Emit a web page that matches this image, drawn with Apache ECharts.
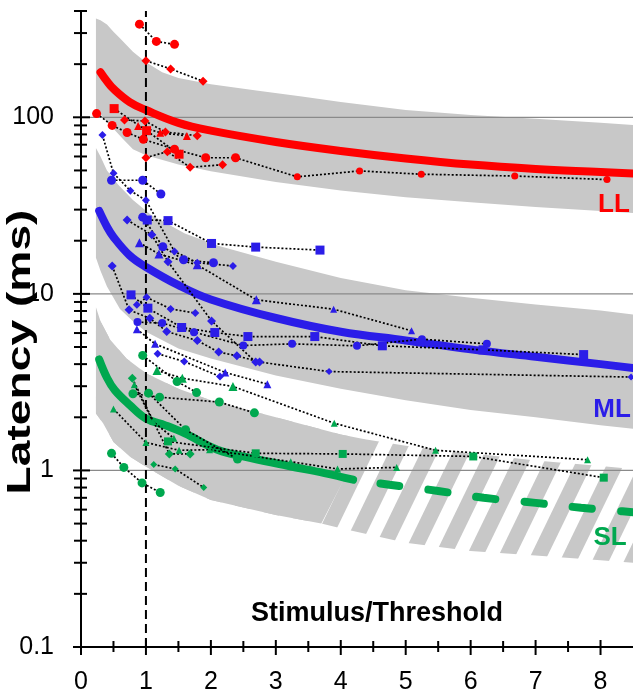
<!DOCTYPE html>
<html>
<head>
<meta charset="utf-8">
<script src="https://cdn.jsdelivr.net/npm/echarts@6.0.0/dist/echarts.min.js"></script>
<style>
  html, body { margin: 0; padding: 0; background: #fff; }
  #chart { width: 633px; height: 695px; }
</style>
</head>
<body>
<div id="chart"></div>
<script>
// axis ticks
const xMajorTicks = [0, 1, 2, 3, 4, 5, 6, 7, 8];
const xMinorTicks = [0.5, 1.5, 2.5, 3.5, 4.5, 5.5, 6.5, 7.5];
const yMajorTicks = [0.1, 1, 10, 100];
const yMinorTicks = [0.2, 0.3, 0.4, 0.5, 0.6, 0.7, 0.8, 0.9,
  2, 3, 4, 5, 6, 7, 8, 9, 20, 30, 40, 50, 60, 70, 80, 90, 200, 300, 400];
const gridValues = [1, 10, 100];

// fitted curves
const llFit = [[0.3,180],[0.4,160],[0.5,145],[0.75,122],[1,110],[1.5,93],[2,84],[3,72.5],[4,64.5],[5,58.5],[6,54],[7,51],[8,49],[8.5,48]];
const mlFit = [[0.28,29.5],[0.4,24],[0.5,21],[0.75,16.5],[1,14.2],[1.5,11.2],[2,9.3],[3,7.3],[4,6.1],[5,5.45],[6,4.85],[7,4.4],[8,4.0],[8.5,3.8]];
const slFit = [[0.28,4.25],[0.4,3.35],[0.52,2.85],[0.75,2.35],[1,1.97],[1.3,1.8],[1.6,1.62],[2.1,1.31],[2.6,1.18],[3.2,1.06],[3.75,0.966],[4.19,0.886]];
const slExtrap = [[4.19,0.886],[4.75,0.83],[5.5,0.765],[6.2,0.70],[7.0,0.655],[7.7,0.615],[8.26,0.59],[8.5,0.58]];

// grey ranges
const llUpper = [[0.23,363],[0.3,355],[0.4,335],[0.5,305],[0.6,280],[0.8,235],[1.0,205],[1.25,180],[1.5,167],[2,154],[2.7,142],[3.4,131],[4,122],[5,110],[6,103],[7,98],[8,93],[8.5,90.5]];
const llLower = [[0.23,112],[0.3,104],[0.4,94],[0.5,86],[0.65,75],[0.8,66],[1,61],[1.5,54],[2,49.5],[3,43],[4,38.5],[5,35.3],[6,33],[7,31],[8,29.5],[8.5,28.7]];
const mlUpper = [[0.23,67],[0.3,60],[0.4,50],[0.57,41.6],[0.8,34],[1.08,28],[1.6,22],[2.1,18.8],[3,15.2],[4,12.3],[5,10.5],[6,9.5],[7,8.7],[8,8.05],[8.5,7.64]];
const mlLower = [[0.23,16],[0.3,13.5],[0.4,11],[0.6,8.2],[0.8,7],[1,6.1],[1.5,4.9],[2,4.3],[3,3.45],[4,2.9],[5,2.5],[6,2.2],[7,2.0],[8,1.8],[8.5,1.72]];
const slUpper = [[0.23,8.4],[0.3,7.0],[0.45,5.5],[0.7,4.3],[1,3.55],[1.5,2.9],[2,2.5],[3,2.0],[4,1.6],[4.37,1.5],[5,1.38],[6,1.25],[7,1.14],[8,1.06],[8.5,1.02]];
const slLower = [[0.23,2.1],[0.34,1.85],[0.5,1.45],[0.75,1.2],[1.0,1.05],[1.5,0.82],[2,0.68],[3,0.56],[3.7,0.5],[4,0.47],[5,0.39],[6,0.35],[7,0.33],[8,0.31],[8.5,0.30]];
const slSolidUpper = slUpper.filter(p => p[0] <= 4.37);
const slSolidLower = slLower.filter(p => p[0] <= 3.7);

// individual subjects, LL
const llCircA = [[0.90,337],[1.16,269],[1.44,259]];
const llDiamA = [[1.0,209],[1.38,188],[1.88,160]];
const llCircB = [[0.24,105],[0.48,90],[0.71,82],[0.96,75],[1.44,66],[1.92,59],[2.38,59],[3.33,46],[4.29,49.7],[5.24,47.6],[6.68,46.5],[8.10,44.4]];
const llSq = [[0.51,112],[1.01,84],[1.51,61.8]];
const llTri = [[0.88,89.3],[1.22,81.8],[1.63,78.4]];
const llDiamB = [[0.67,96.6],[0.985,95.3],[1.30,82.5],[1.79,78.7]];
const llDiamC = [[1.0,59.1],[1.33,63.9],[1.68,52.1],[2.18,53.9]];

// ML
const mlDiamA = [[0.33,79.4],[0.50,48.2],[0.76,38.4],[1.0,33.9],[1.44,17.4],[1.79,15.0],[2.34,14.4]];
const mlCircA = [[0.47,44],[0.95,44],[1.23,36.8]];
const mlCircB = [[0.95,27.2],[1.26,18.5],[1.58,15.6],[2.04,15.0]];
const mlSqA = [[1.02,26.2],[1.34,26.0],[2.01,19.3],[2.69,18.4],[3.68,17.7]];
const mlDiamB = [[0.71,26.2],[1.09,21.6],[1.34,15.2],[2.01,7.03],[2.69,4.11]];
const mlTriA = [[0.90,19.5],[1.20,16.8],[1.79,14.6],[2.70,9.25],[3.89,8.19],[5.09,6.18]];
const mlDiamC = [[0.48,14.4],[0.74,8.12],[1.06,7.28],[1.32,6.12],[1.79,5.44],[2.12,4.68],[2.40,4.46],[2.75,4.11],[3.82,3.63],[8.47,3.38]];
const mlSqB = [[0.77,9.87],[1.03,8.30],[1.55,6.45],[2.06,6.04],[2.57,5.73],[3.60,5.73],[4.64,5.08],[6.19,4.82],[7.74,4.53]];
const mlCircC = [[0.87,6.92],[1.25,6.83],[1.74,6.07],[2.50,5.10],[3.25,5.21],[4.25,5.08],[5.25,5.54],[6.25,5.21]];
const mlDiamD = [[0.86,8.67],[1.01,9.56],[1.38,8.22],[1.76,7.78]];
const mlTriB = [[0.86,6.31],[1.14,5.21],[2.22,3.59],[2.87,3.08]];
const mlDiamE = [[1.18,4.58],[1.59,4.14],[2.14,3.40]];

// SL
const slCircA = [[0.95,4.48],[1.48,3.19],[1.78,2.76]];
const slTriA = [[1.17,3.68],[1.56,3.33],[2.34,2.99],[3.90,1.85],[5.46,1.30],[7.80,1.15]];
const slCircB = [[0.80,2.72],[1.21,2.60],[2.13,2.44],[2.67,2.12]];
const slDiamA = [[0.79,3.33],[1.36,1.24],[1.68,1.24]];
const slTriB = [[0.50,2.23],[1.0,1.44],[1.51,1.30],[1.98,1.31],[3.23,1.12],[3.95,1.02],[4.86,1.04]];
const slSq = [[1.34,1.46],[2.69,1.25],[4.03,1.24],[6.04,1.20],[8.05,0.91]];
const slCircC = [[0.47,1.25],[0.66,1.04],[0.94,0.85],[1.22,0.75]];
const slDiamB = [[1.12,1.08],[1.45,1.02],[1.89,0.80]];
const slCircD = [[1.04,2.74],[1.61,1.70],[2.41,1.16]];
const slTriC = [[0.82,3.06],[1.11,1.89],[1.43,1.52]];

const threshold = [[1, 0.1], [1, 400]];

const RED = '#ff0000', BLUE = '#2b1de8', GREEN = '#00a84f', GREY = '#c8c8c8';
const FONT = '"Liberation Sans", Arial, Helvetica, sans-serif';

// diagonal stripes for the extrapolated SL range
function stripePattern() {
  const W = 32, H = 66, sw = 17;
  const c = document.createElement('canvas');
  c.width = W; c.height = H;
  const ctx = c.getContext('2d');
  ctx.fillStyle = GREY;
  for (let k = -1; k <= 1; k++) {
    const o = k * W;
    ctx.beginPath();
    ctx.moveTo(o, H);
    ctx.lineTo(o + sw, H);
    ctx.lineTo(o + sw + W, 0);
    ctx.lineTo(o + W, 0);
    ctx.closePath();
    ctx.fill();
  }
  return c;
}

function band(upper, lower, fill) {
  return {
    type: 'custom', z: 1, silent: true, data: [[0, 1]],
    renderItem: function (params, api) {
      const pts = upper.map(p => api.coord(p))
        .concat(lower.slice().reverse().map(p => api.coord(p)));
      return { type: 'polygon', shape: { points: pts }, style: { fill: fill } };
    }
  };
}

function ticks(values, vertical, before, after) {
  return {
    type: 'custom', z: 10, silent: true,
    data: values.map(v => vertical ? [v, 0.1] : [0, v]),
    renderItem: function (params, api) {
      const p = api.coord([api.value(0), api.value(1)]);
      const shape = vertical
        ? { x1: p[0], y1: p[1] - before, x2: p[0], y2: p[1] + after }
        : { x1: p[0] - before, y1: p[1], x2: p[0] + after, y2: p[1] };
      return { type: 'line', shape: shape, style: { stroke: '#000', lineWidth: 2 } };
    }
  };
}

function fit(data, color, dash) {
  return {
    type: 'line', z: 3, data: data, smooth: 0.4, symbol: 'none', silent: true,
    lineStyle: { color: color, width: 8, cap: 'round', type: dash || 'solid', dashOffset: dash ? 21 : 0 }
  };
}

function subject(data, color, symbol, size) {
  return {
    type: 'line', z: 5, data: data, symbol: symbol, showSymbol: true, silent: true,
    symbolSize: size || 9,
    itemStyle: { color: color },
    lineStyle: { color: '#000', width: 1.7, type: [2, 2] }
  };
}

const tailSize = v => v[0] > 3 ? 7 : 9;

function label(text, x, y, color, size, extra) {
  return Object.assign({
    type: 'text', x: x, y: y, z: 100,
    style: {
      text: text, font: 'bold ' + size + 'px ' + FONT, fill: color,
      align: 'center', verticalAlign: 'middle', textAlign: 'center', textVerticalAlign: 'middle'
    }
  }, extra || {});
}

const chart = echarts.init(document.getElementById('chart'));
chart.setOption({
  animation: false,
  grid: { left: 81, right: 0, top: 11, bottom: 48 },
  xAxis: {
    type: 'value', min: 0, max: 8.5, interval: 1,
    axisLine: { lineStyle: { color: '#000', width: 2 } },
    axisTick: { show: false },
    splitLine: { show: false },
    axisLabel: { color: '#000', fontSize: 25, fontFamily: FONT, margin: 23, showMaxLabel: false }
  },
  yAxis: {
    type: 'log', logBase: 10, min: 0.1, max: 400,
    axisLine: { lineStyle: { color: '#000', width: 2 } },
    axisTick: { show: false },
    splitLine: { show: false },
    axisLabel: { color: '#000', fontSize: 25, fontFamily: FONT, margin: 27, showMaxLabel: false }
  },
  graphic: [
    label('Stimulus/Threshold', 377, 614, '#000', 27),
    label('Latency (ms)', 21, 352, '#000', 33, { rotation: Math.PI / 2, scaleX: 1.4 }),
    label('LL', 614, 205, RED, 26),
    label('ML', 612, 410, BLUE, 26),
    label('SL', 610, 538, GREEN, 26)
  ],
  series: [
    band(llUpper, llLower, GREY),
    band(mlUpper, mlLower, GREY),
    band(slUpper, slLower, { image: stripePattern(), repeat: 'repeat' }),
    band(slSolidUpper, slSolidLower, GREY),
    {
      type: 'custom', z: 2, silent: true,
      data: gridValues.map(v => [0, v]),
      renderItem: function (params, api) {
        const a = api.coord([0, api.value(1)]);
        const b = api.coord([8.5, api.value(1)]);
        return { type: 'line', shape: { x1: a[0], y1: a[1], x2: b[0], y2: b[1] }, style: { stroke: '#8a8a8a', lineWidth: 1.2 } };
      }
    },
    fit(llFit, RED),
    fit(mlFit, BLUE),
    fit(slFit, GREEN),
    fit(slExtrap, GREEN, [19, 29.5]),
    {
      type: 'line', z: 4, data: threshold, symbol: 'none', silent: true,
      lineStyle: { color: '#000', width: 2, type: [9, 5] }
    },
    subject(llCircA, RED, 'circle'),
    subject(llDiamA, RED, 'diamond'),
    subject(llCircB, RED, 'circle', tailSize),
    subject(llSq, RED, 'rect'),
    subject(llTri, RED, 'triangle', 8),
    subject(llDiamB, RED, 'diamond'),
    subject(llDiamC, RED, 'diamond'),
    subject(mlDiamA, BLUE, 'diamond', 8),
    subject(mlCircA, BLUE, 'circle'),
    subject(mlCircB, BLUE, 'circle'),
    subject(mlSqA, BLUE, 'rect'),
    subject(mlDiamB, BLUE, 'diamond'),
    subject(mlTriA, BLUE, 'triangle', tailSize),
    subject(mlDiamC, BLUE, 'diamond', tailSize),
    subject(mlSqB, BLUE, 'rect', 9),
    subject(mlCircC, BLUE, 'circle', 8),
    subject(mlDiamD, BLUE, 'diamond', 8),
    subject(mlTriB, BLUE, 'triangle', 8),
    subject(mlDiamE, BLUE, 'diamond', 8),
    subject(slCircA, GREEN, 'circle'),
    subject(slTriA, GREEN, 'triangle', tailSize),
    subject(slCircB, GREEN, 'circle'),
    subject(slDiamA, GREEN, 'diamond'),
    subject(slTriB, GREEN, 'triangle', 7),
    subject(slSq, GREEN, 'rect', 8),
    subject(slCircC, GREEN, 'circle'),
    subject(slDiamB, GREEN, 'diamond', 7),
    subject(slCircD, GREEN, 'circle'),
    subject(slTriC, GREEN, 'triangle', 7),
    ticks(yMajorTicks, false, 8, 9),
    ticks(yMinorTicks, false, 7, 6),
    ticks(xMajorTicks, true, 7, 8),
    ticks(xMinorTicks, true, 6, 5)
  ]
});
</script>
</body>
</html>
